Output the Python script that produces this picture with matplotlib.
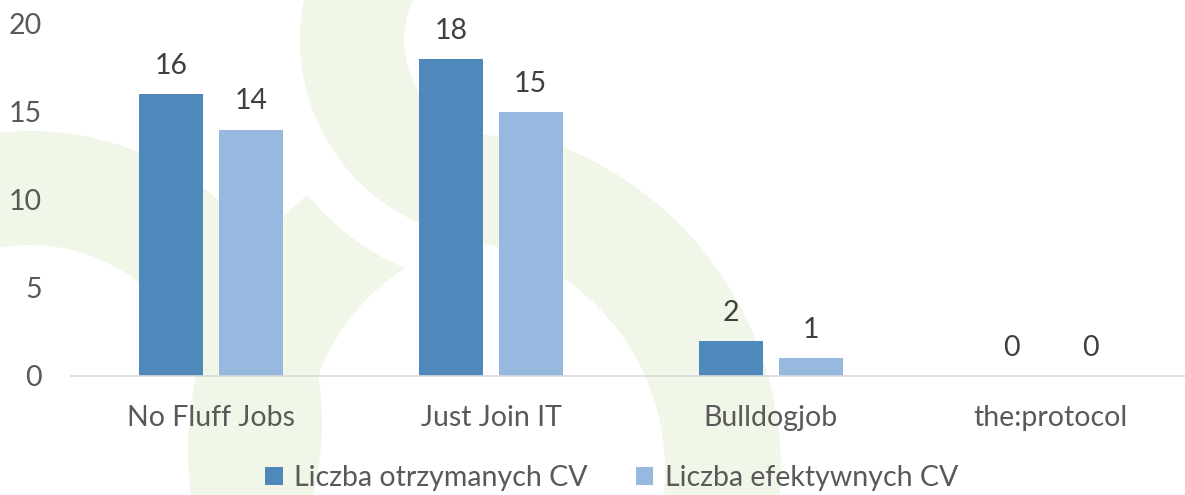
import numpy as np
import matplotlib
matplotlib.use('Agg')
import matplotlib.pyplot as plt
from matplotlib.patches import Wedge

# data
platforms = ['No Fluff Jobs', 'Just Join IT', 'Bulldogjob', 'the:protocol']
received = [16, 18, 2, 0]
effective = [14, 15, 1, 0]
series_names = ['Liczba otrzymanych CV', 'Liczba efektywnych CV']

dark_blue = '#4F88BB'
light_blue = '#98B9DF'
watermark = '#F0F6E8'
text_col = '#404040'
tick_col = '#595959'
fs = 20.5

plt.rcParams['font.family'] = ['Lato', 'DejaVu Sans']

fig = plt.figure(figsize=(11.85, 4.95), dpi=100)

# faint green logo in the background (pixel coordinates of the figure)
bg = fig.add_axes([0, 0, 1, 1], zorder=0)
bg.set_xlim(0, 1185)
bg.set_ylim(495, 0)
bg.axis('off')
# (center, inner r, outer r, theta1, theta2, colour) - drawn in this order
rings = [
    ((30, 423), 178, 292, -180, 20, watermark),
    ((520, 450), 215, 332, 150, 260, watermark),
    ((500, 40), 200, 247, 60, 200, 'white'),
    ((500, 40), 96, 200, 60, 270, watermark),
    ((433, 470), 232, 348, -78, 10, watermark),
]
for c, r_in, r_out, t1, t2, col in rings:
    bg.add_patch(Wedge(c, r_out, t1, t2, width=r_out - r_in, color=col, lw=0))

# main chart
ax = fig.add_axes([71 / 1185, 119 / 495, 1114 / 1185, 352 / 495], zorder=1)
ax.patch.set_alpha(0)

x = np.arange(len(platforms))
w = 0.229
off = 0.142
b1 = ax.bar(x - off, received, w, color=dark_blue, label=series_names[0])
b2 = ax.bar(x + off, effective, w, color=light_blue, label=series_names[1])

for bars in (b1, b2):
    for rect in bars:
        h = rect.get_height()
        ax.annotate(f'{h:.0f}', (rect.get_x() + rect.get_width() / 2, h),
                    xytext=(0, 14.5), textcoords='offset points',
                    ha='center', va='baseline', fontsize=fs,
                    color=text_col, annotation_clip=False)

ax.set_xlim(-0.5, -0.5 + 1114 / 280)
ax.set_ylim(0, 20)
ax.set_yticks([0, 5, 10, 15, 20])
ax.set_xticks(x)
ax.set_xticklabels(platforms)
ax.tick_params(axis='both', length=0, labelsize=fs, labelcolor=tick_col)
ax.tick_params(axis='y', pad=21)
ax.tick_params(axis='x', pad=21)
for s in ['top', 'right', 'left']:
    ax.spines[s].set_visible(False)
ax.spines['bottom'].set_color('#D9D9D9')
ax.spines['bottom'].set_linewidth(1.2)

leg = fig.legend(loc='center', bbox_to_anchor=(0.516, 1 - 478 / 495), ncol=2,
                 frameon=False, fontsize=fs, handlelength=0.62, handleheight=0.62,
                 handletextpad=0.4, columnspacing=1.68)
for t in leg.get_texts():
    t.set_color(tick_col)

fig.savefig('out.png', dpi=100)
